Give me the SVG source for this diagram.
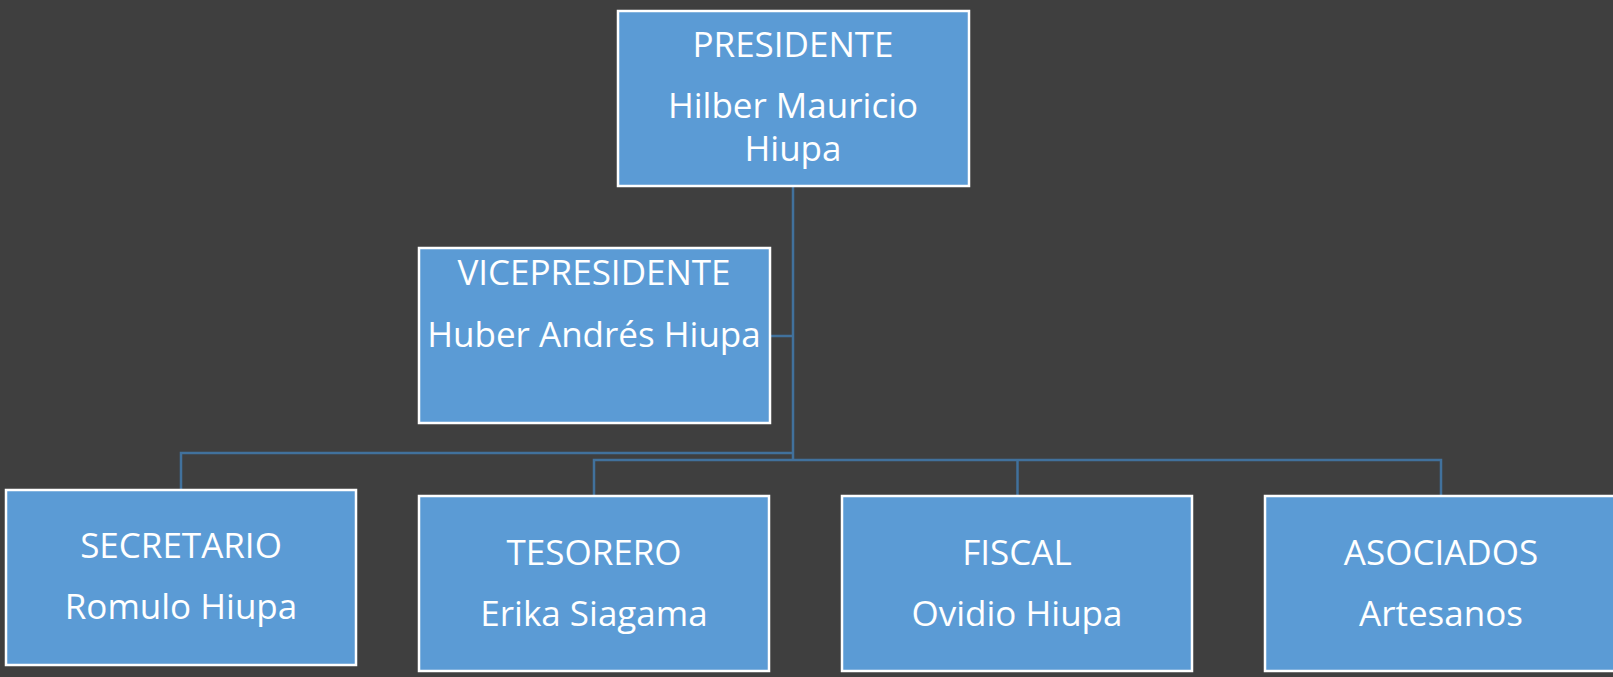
<svg xmlns="http://www.w3.org/2000/svg" width="1613" height="677" viewBox="0 0 1613 677">
<style>
.box{fill:#5b9bd5;stroke:#ffffff;stroke-width:2.5}
.t{font-family:"Open Sans","Liberation Sans",sans-serif;font-size:35px;fill:#ffffff;text-anchor:middle}
.c{fill:none;stroke:#41719c;stroke-width:2.5}
</style>
<rect x="0" y="0" width="1613" height="677" fill="#3f3f3f"/>
<g id="connectors">
<path class="c" d="M793,186 V460"/>
<path class="c" d="M770,336 H793"/>
<path class="c" d="M793,453 H181 V490"/>
<path class="c" d="M594,496 V460 H1441 V496"/>
<path class="c" d="M1017.5,460 V496"/>
</g>
<g id="presidente">
<rect class="box" x="618" y="11" width="351" height="175"/>
<text class="t" x="793" y="57">PRESIDENTE</text>
<text class="t" x="793" y="118">Hilber Mauricio</text>
<text class="t" x="793" y="161">Hiupa</text>
</g>
<g id="vicepresidente">
<rect class="box" x="419" y="248" width="351" height="175"/>
<text class="t" x="594" y="285">VICEPRESIDENTE</text>
<text class="t" x="594" y="347">Huber Andrés Hiupa</text>
</g>
<g id="secretario">
<rect class="box" x="6" y="490" width="350" height="175"/>
<text class="t" x="181" y="558">SECRETARIO</text>
<text class="t" x="181" y="619">Romulo Hiupa</text>
</g>
<g id="tesorero">
<rect class="box" x="419" y="496" width="350" height="175"/>
<text class="t" x="594" y="565">TESORERO</text>
<text class="t" x="594" y="626">Erika Siagama</text>
</g>
<g id="fiscal">
<rect class="box" x="842" y="496" width="350" height="175"/>
<text class="t" x="1017" y="565">FISCAL</text>
<text class="t" x="1017" y="626">Ovidio Hiupa</text>
</g>
<g id="asociados">
<rect class="box" x="1265" y="496" width="350" height="175"/>
<text class="t" x="1441" y="565">ASOCIADOS</text>
<text class="t" x="1441" y="626">Artesanos</text>
</g>
</svg>
